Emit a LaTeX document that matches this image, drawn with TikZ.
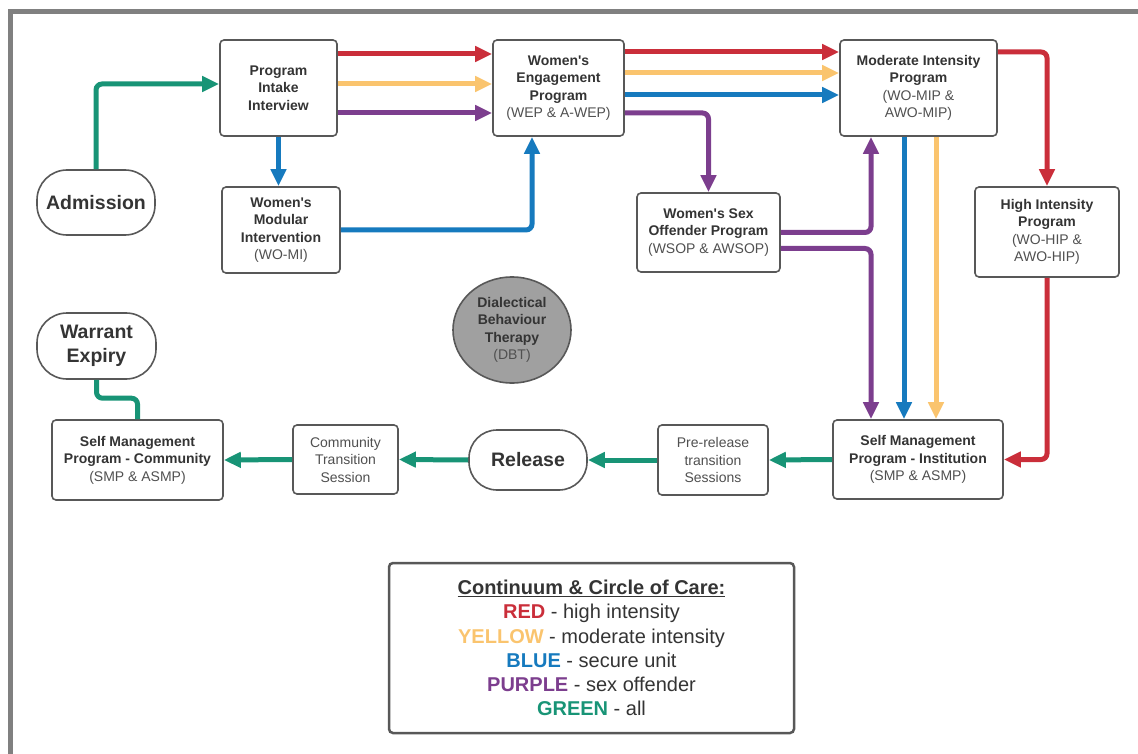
\documentclass[tikz,border=0pt]{standalone}
\usepackage{fontspec}
\setmainfont{Liberation Sans}[Ligatures=TeXOff]
\usetikzlibrary{arrows.meta,calc,shapes.geometric}
\definecolor{cred}{RGB}{202,46,58}
\definecolor{cyel}{RGB}{250,196,110}
\definecolor{cblue}{RGB}{22,122,190}
\definecolor{cpur}{RGB}{124,62,142}
\definecolor{cgreen}{RGB}{24,148,118}
\definecolor{bordc}{RGB}{88,88,88}
\definecolor{txtc}{RGB}{52,52,52}
\definecolor{partc}{RGB}{80,80,80}
\definecolor{framec}{RGB}{128,128,128}
\definecolor{dbtfill}{RGB}{160,160,160}
\newcommand\fsn{\fontsize{14}{17.5}\selectfont}
\newcommand\pt[1]{{\mdseries\color{partc}#1}}
\tikzset{
  box/.style={draw=bordc, line width=1.6pt, rounded corners=4pt, fill=white, align=center,
    inner sep=0pt, text=txtc, font=\fsn\bfseries},
  term/.style={draw=bordc, line width=1.6pt, rounded corners=30pt, fill=white, align=center,
    inner sep=0pt, text=txtc, font=\fontsize{19.5}{24}\selectfont\bfseries},
  conn/.style={line width=5pt, rounded corners=6pt, -{Triangle[length=17pt,width=15pt]}},
  plain/.style={line width=5pt, rounded corners=6pt},
}
\begin{document}
\begin{tikzpicture}[x=1pt,y=-1pt]
\useasboundingbox (0,0) rectangle (1138,754);
\draw[framec, line width=5pt] (10,754) -- (10,11.5) -- (1138,11.5);

% nodes
\node[box, minimum width=117pt, minimum height=96pt] (pii) at (278.5,88) {Program\\Intake\\Interview};
\node[term, minimum width=118pt, minimum height=65pt] (adm) at (96,202.5) {Admission};
\node[box, minimum width=118pt, minimum height=86pt] (wmi) at (281,230) {Women's\\Modular\\Intervention\\\pt{(WO-MI)}};
\node[box, minimum width=131pt, minimum height=96pt] (wep) at (558.5,88) {Women's\\Engagement\\Program\\\pt{(WEP \& A-WEP)}};
\node[box, minimum width=143pt, minimum height=79pt] (wsop) at (708.5,232.5) {Women's Sex\\Offender Program\\\pt{(WSOP \& AWSOP)}};
\node[box, minimum width=157pt, minimum height=96pt] (mip) at (918.5,88) {Moderate Intensity\\Program\\\pt{(WO-MIP \&}\\\pt{AWO-MIP)}};
\node[box, minimum width=144pt, minimum height=90pt] (hip) at (1047,232) {High Intensity\\Program\\\pt{(WO-HIP \&}\\\pt{AWO-HIP)}};
\node[ellipse, draw=bordc, line width=1.6pt, fill=dbtfill, minimum width=118pt, minimum height=106pt,
  inner sep=0pt, align=center, text=txtc, font=\fsn\bfseries] (dbt) at (512,330) {Dialectical\\Behaviour\\Therapy\\\pt{(DBT)}};
\node[term, rounded corners=28pt, minimum width=118pt, minimum height=60pt] (rel) at (528,460) {Release};
\node[box, font=\fsn, text=partc, minimum width=110pt, minimum height=70pt] (pre) at (713,460) {Pre-release\\transition\\Sessions};
\node[box, minimum width=170pt, minimum height=79pt] (smi) at (918,459.5) {Self Management\\Program - Institution\\\pt{(SMP \& ASMP)}};
\node[term, minimum width=119pt, minimum height=66pt] (we) at (96.5,346) {Warrant\\Expiry};
\node[box, minimum width=171pt, minimum height=80pt] (smpc) at (137.5,460) {Self Management\\Program - Community\\\pt{(SMP \& ASMP)}};
\node[box, font=\fsn, text=partc, minimum width=105pt, minimum height=69pt] (cts) at (345.5,459.5) {Community\\Transition\\Session};

\node[draw=bordc, line width=2.5pt, rounded corners=4pt, minimum width=405pt, minimum height=170pt,
  align=center, inner sep=0pt, text=txtc, font=\fontsize{20}{24.3}\selectfont] (leg) at (591.5,648)
  {\textbf{\underline{Continuum \& Circle of Care:}}\\
   \textbf{\color{cred}RED} - high intensity\\
   \textbf{\color{cyel}YELLOW} - moderate intensity\\
   \textbf{\color{cblue}BLUE} - secure unit\\
   \textbf{\color{cpur}PURPLE} - sex offender\\
   \textbf{\color{cgreen}GREEN} - all};

% connectors
\draw[conn, cgreen] (adm.north) |- ($(pii.west)+(0,-4)$);
\draw[conn, cred] ($(pii.east)+(0,-34)$) -- ($(wep.west)+(0,-34)$);
\draw[conn, cyel] ($(pii.east)+(0,-4)$) -- ($(wep.west)+(0,-4)$);
\draw[conn, cpur] ($(pii.east)+(0,25)$) -- ($(wep.west)+(0,25)$);
\draw[conn, cblue] (pii.south) -- (pii.south |- wmi.north);
\draw[conn, cblue] (wmi.east) -| ($(wep.south)+(-26.5,0)$);

\draw[conn, cred] ($(wep.east)+(0,-36)$) -- ($(mip.west)+(0,-36)$);
\draw[conn, cyel] ($(wep.east)+(0,-15)$) -- ($(mip.west)+(0,-15)$);
\draw[conn, cblue] ($(wep.east)+(0,7)$) -- ($(mip.west)+(0,7)$);
\draw[conn, cpur] ($(wep.east)+(0,25)$) -| (wsop.north);

\draw[conn, cpur] (wsop.east) -| ($(mip.south)+(-47.5,0)$);
\draw[conn, cpur] ($(wsop.east)+(0,16)$) -| ($(smi.north)+(-47,0)$);
\coordinate (b1) at ($(mip.south)+(-14.5,0)$);
\coordinate (y1) at ($(mip.south)+(17.5,0)$);
\draw[conn, cblue] (b1) -- (b1 |- smi.north);
\draw[conn, cyel] (y1) -- (y1 |- smi.north);

\draw[conn, cred] ($(mip.east)+(0,-36)$) -| (hip.north);
\draw[conn, cred] (hip.south) |- (smi.east);

\draw[conn, cgreen] (smi.west) -- (pre.east);
\draw[conn, cgreen] (pre.west) -- (rel.east);
\draw[conn, cgreen] (rel.west) -- (cts.east);
\draw[conn, cgreen] (cts.west) -- (smpc.east);
\draw[plain, cgreen] (smpc.north) -- ++(0,-21) -| (we.south);
\end{tikzpicture}
\end{document}
